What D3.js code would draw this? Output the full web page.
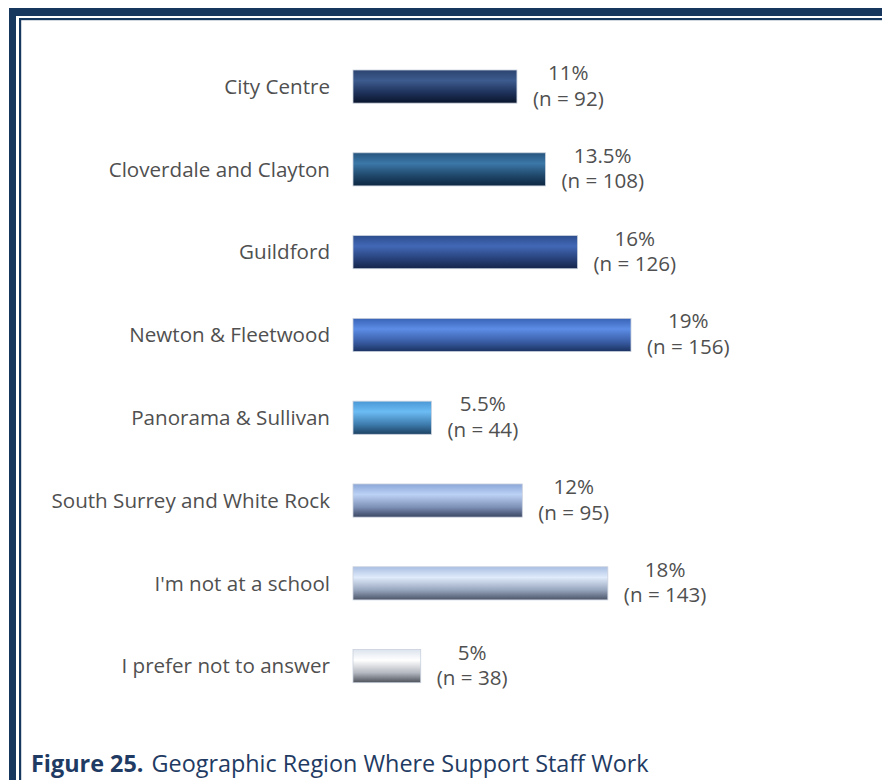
<!DOCTYPE html>
<html>
<head>
<meta charset="utf-8">
<script src="https://cdn.jsdelivr.net/npm/d3@7"></script>
<style>
  html, body { margin: 0; padding: 0; background: #ffffff; }
  svg { display: block; }
</style>
</head>
<body>
<svg id="chart" width="882" height="780"></svg>
<script>
// Survey responses: region where support staff work
const categories = [
  "City Centre",
  "Cloverdale and Clayton",
  "Guildford",
  "Newton & Fleetwood",
  "Panorama & Sullivan",
  "South Surrey and White Rock",
  "I'm not at a school",
  "I prefer not to answer"
];
const percentLabels = ["11%", "13.5%", "16%", "19%", "5.5%", "12%", "18%", "5%"];
const counts = [92, 108, 126, 156, 44, 95, 143, 38];

// Per-bar shading: [top edge, highlight, lower body, bottom edge]
const barShades = [
  ["#2c4470", "#3d5b8e", "#1d3058", "#0a152c"],
  ["#27557e", "#3b78a8", "#1f4668", "#0c2640"],
  ["#2d4e8e", "#4268b6", "#27417a", "#14254a"],
  ["#3963b6", "#5c8de6", "#3a5ea6", "#1b3262"],
  ["#4a98d6", "#6cbcf4", "#3e7cae", "#1d4262"],
  ["#8ba6d8", "#bcd2f5", "#7d90b6", "#3a4560"],
  ["#a9bee2", "#e0ebfb", "#98a6be", "#4a5468"],
  ["#dde4ee", "#ffffff", "#b4b8c0", "#4c5058"]
];

const svg = d3.select("#chart");
const frame = "#17375e";
const textColor = "#505050";
const font = "'Open Sans', 'Noto Sans', sans-serif";
const labelSize = 20.6;

// Page frame: heavy rule plus thin inner rule on the top and left sides
svg.append("rect").attr("x", 9).attr("y", 8).attr("width", 882).attr("height", 8).attr("fill", frame);
svg.append("rect").attr("x", 9).attr("y", 8).attr("width", 7).attr("height", 800).attr("fill", frame);
svg.append("rect").attr("x", 19).attr("y", 18).attr("width", 870).attr("height", 2.2).attr("fill", frame);
svg.append("rect").attr("x", 19).attr("y", 18).attr("width", 2.2).attr("height", 800).attr("fill", frame);

const y = d3.scaleBand()
  .domain(categories)
  .range([28.6, 724.1])
  .paddingInner(0.6)
  .paddingOuter(0.5);

const x = d3.scaleLinear()
  .domain([0, d3.max(counts)])
  .range([353, 631]);

const rows = categories.map((c, i) => ({ cat: c, pct: percentLabels[i], n: counts[i], shade: barShades[i], i }));

// Gradients for the glossy bar look
const defs = svg.append("defs");
rows.forEach(d => {
  const g = defs.append("linearGradient")
    .attr("id", "grad" + d.i)
    .attr("x1", 0).attr("y1", 0).attr("x2", 0).attr("y2", 1);
  const stops = [[0, d.shade[0]], [0.32, d.shade[1]], [0.7, d.shade[2]], [1, d.shade[3]]];
  stops.forEach(s => g.append("stop").attr("offset", s[0]).attr("stop-color", s[1]));
});

// Bars
svg.append("g").selectAll("rect")
  .data(rows)
  .join("rect")
  .attr("x", x(0))
  .attr("y", d => y(d.cat))
  .attr("width", d => x(d.n) - x(0))
  .attr("height", y.bandwidth())
  .attr("fill", d => `url(#grad${d.i})`)
  .attr("stroke", "#c8d0dc")
  .attr("stroke-width", 0.8);

// Category labels on the left
const yAxis = d3.axisLeft(y).tickSize(0).tickPadding(0);
const axisG = svg.append("g")
  .attr("transform", "translate(330,0)")
  .call(yAxis);
axisG.select(".domain").remove();
axisG.selectAll("text")
  .attr("font-family", font)
  .attr("font-size", labelSize)
  .attr("fill", textColor)
  .attr("text-anchor", "end")
  .attr("dy", "0.35em");

// Value labels: percentage over count, centred as a block beside each bar
const labels = svg.append("g").selectAll("g")
  .data(rows)
  .join("g");

labels.each(function(d) {
  const g = d3.select(this);
  const cy = y(d.cat) + y.bandwidth() / 2;
  const t1 = g.append("text").text(d.pct)
    .attr("y", cy - 6.5);
  const t2 = g.append("text").text(`(n = ${d.n})`)
    .attr("y", cy + 19);
  g.selectAll("text")
    .attr("font-family", font)
    .attr("font-size", labelSize)
    .attr("fill", textColor)
    .attr("text-anchor", "middle");
  const w = Math.max(t1.node().getComputedTextLength(), t2.node().getComputedTextLength());
  const cx = x(d.n) + 16 + w / 2;
  g.selectAll("text").attr("x", cx);
});

// Caption
const cap = svg.append("text")
  .attr("x", 31)
  .attr("y", 772)
  .attr("font-family", font)
  .attr("font-size", 23.4)
  .attr("fill", "#1f3b63");
cap.append("tspan").attr("font-weight", "bold").text("Figure 25.");
cap.append("tspan").attr("dx", 8).text("Geographic Region Where Support Staff Work");
</script>
</body>
</html>
